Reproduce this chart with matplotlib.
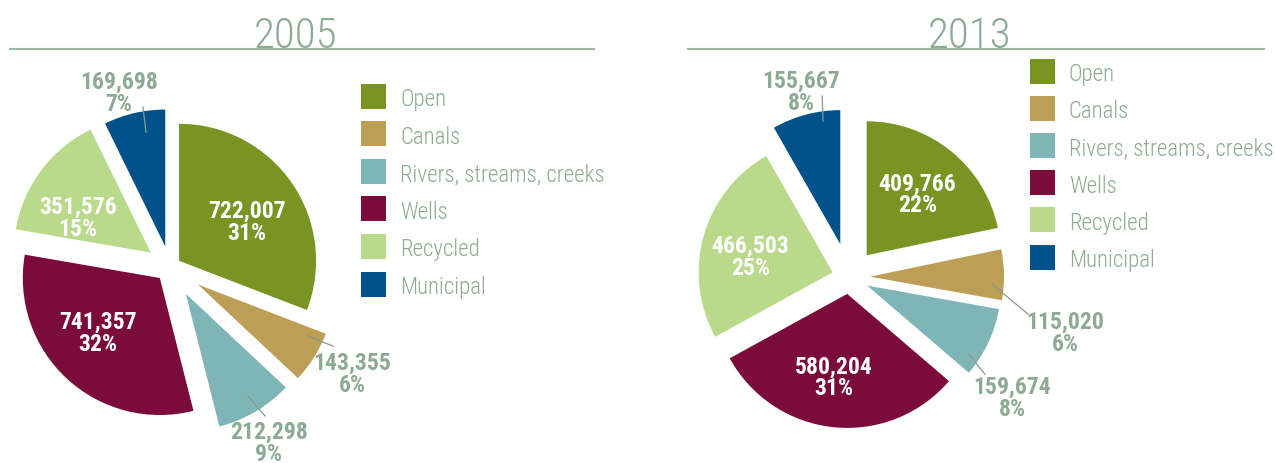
import numpy as np
import matplotlib
matplotlib.use("Agg")
import matplotlib.pyplot as plt
from matplotlib import font_manager
from matplotlib.patches import Rectangle

W, H = 1275, 464

# data
sources = ["Open", "Canals", "Rivers, streams, creeks", "Wells", "Recycled", "Municipal"]
colors = ["#799423", "#BD9E56", "#80B5B8", "#7A0B3B", "#B9D98B", "#01528B"]
years = ["2005", "2013"]
values_2005 = [722007, 143355, 212298, 741357, 351576, 169698]
values_2013 = [409766, 115020, 159674, 580204, 466503, 155667]

# fonts: want a condensed sans
names = set(f.name for f in font_manager.fontManager.ttflist)
FONT = "DejaVu Sans"
for cand in ["Roboto Condensed", "Archivo Narrow", "PT Sans Narrow", "Fira Sans Condensed",
             "Liberation Sans Narrow"]:
    if cand in names:
        FONT = cand
        break
plt.rcParams["font.family"] = [FONT, "DejaVu Sans"]

TXT = "#8DAA94"
LINE = "#9CB8A5"

# layout for each pie (pixel coords, y down)
# leaders: idx -> (start shift, line vector, text offset); inner: idx -> label shift
layout = [
    dict(center=(170, 268), r=137, explode=[11, 33, 31, 15, 24, 21],
         legend=(361, 97, 37.6), title_x=296, rule=(10, 594),
         inner={0: (0, 7), 3: (-6, -6), 4: (-7, 14)},
         leaders={5: ((7, -1), (-3, -25), (-24, -15)),
                  1: ((12, -10), (25, 10), (19, 27)),
                  2: ((3, 2), (17, 20), (4, 26))}),
    dict(center=(849, 278), r=134, explode=[28, 21, 20, 17, 17, 34],
         legend=(1030, 72, 37.2), title_x=970, rule=(688, 1264),
         inner={0: (0, 1), 3: (-5, 3), 4: (-5, 6)},
         leaders={5: ((12, -13), (-1, -25), (-21, -5)),
                  1: ((8, 9), (36, 30), (37, 18)),
                  2: ((-1, 20), (16, 20), (27, 23))}),
]

fig = plt.figure(figsize=(W / 100, H / 100), dpi=100)
ax = fig.add_axes([0, 0, 1, 1])

for year, vals, lay in zip(years, [values_2005, values_2013], layout):
    cx, cy = lay["center"]
    r = lay["r"]
    total = sum(vals)
    wedges, _ = ax.pie(vals, colors=colors, startangle=90, counterclock=False,
                       center=(cx, H - cy), radius=r, explode=lay["explode"],
                       wedgeprops=dict(linewidth=0))
    for i, w in enumerate(wedges):
        v = vals[i]
        lab = f"{v:,}\n{round(100 * v / total)}%"
        mid = np.radians((w.theta1 + w.theta2) / 2)
        ux, uy = np.cos(mid), np.sin(mid)
        wx, wy = w.center
        if v / total >= 0.1:
            sdx, sdy = lay["inner"][i]
            ax.text(wx + 0.6 * r * ux + sdx, wy + 0.6 * r * uy - sdy, lab, color="white",
                    fontsize=17, fontweight="semibold", ha="center", va="center",
                    linespacing=0.95)
        else:
            (adx, ady), (ldx, ldy), (tdx, tdy) = lay["leaders"][i]
            sx, sy = wx + 0.85 * r * ux + adx, wy + 0.85 * r * uy - ady
            ex, ey = sx + ldx, sy - ldy
            ax.plot([sx, ex], [sy, ey], color="#8A9A8E", lw=0.9)
            ax.text(ex + tdx, ey - tdy, lab, color=TXT, fontsize=17,
                    fontweight="semibold", ha="center", va="center", linespacing=0.95)

    # title and rule
    ax.text(lay["title_x"], H - 48, year, color=TXT, fontsize=31,
            fontweight="light", ha="center", va="baseline")
    ax.plot(lay["rule"], [H - 50, H - 50], color=LINE, lw=1.5)

    # legend
    lx, ly, step = lay["legend"]
    for j, (name, c) in enumerate(zip(sources, colors)):
        yc = ly + j * step
        ax.add_patch(Rectangle((lx, H - yc - 12.5), 25, 25, color=c, lw=0))
        ax.text(lx + 39, H - yc - 9, name, color=TXT, fontsize=16.5,
                fontweight="light", ha="left", va="baseline")

ax.set_aspect("equal")
ax.set_xlim(0, W)
ax.set_ylim(0, H)
ax.axis("off")
fig.savefig("out.png", dpi=100)
